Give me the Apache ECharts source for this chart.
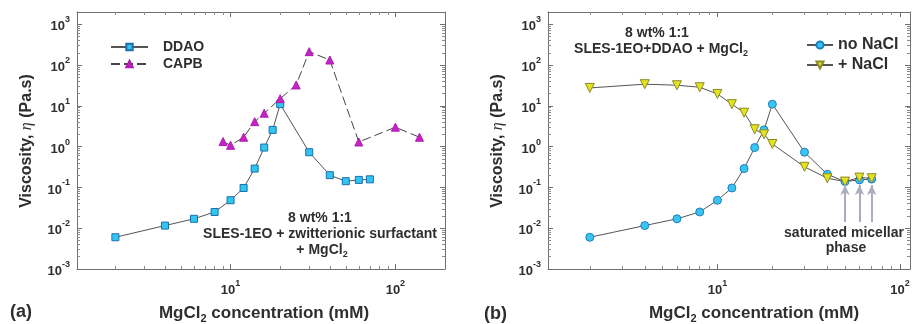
<!DOCTYPE html>
<html><head><meta charset="utf-8">
<script src="https://cdn.jsdelivr.net/npm/echarts@6/dist/echarts.min.js"></script>
<style>html,body{margin:0;padding:0;background:#fff}#c{width:913px;height:324px}</style>
</head><body><div id="c"></div>
<script>
// ---- data ----
const concA = [2, 4, 6, 8, 10, 12, 14, 16, 18, 20, 30, 40, 50, 60, 70];
const ddao = [0.006, 0.0116, 0.017, 0.025, 0.0485, 0.097, 0.29, 0.95, 2.57, 11, 0.73, 0.2, 0.142, 0.153, 0.158];
const concCAPB = [9, 10, 12, 14, 16, 20, 25, 30, 40, 60, 100, 140];
const capb = [1.33, 1.08, 1.7, 4.1, 6.6, 15, 32.5, 213, 133, 1.3, 3.0, 1.7];
const concB = [2, 4, 6, 8, 10, 12, 14, 16, 18, 20, 30, 40, 50, 60, 70];
const noNaCl = [0.006, 0.0116, 0.017, 0.025, 0.0485, 0.097, 0.29, 0.95, 2.57, 11, 0.73, 0.21, 0.139, 0.153, 0.16];
const withNaCl = [27.5, 34, 32, 28.6, 19.6, 11, 6.8, 2.67, 2.0, 1.16, 0.32, 0.168, 0.139, 0.174, 0.168];
const arrowX = [50, 60, 70];
const arrowFrom = 0.0143, arrowTo = 0.115;
const xRangeA = [1.17, 200], xRangeB = [1.18, 113.5], yRange = [0.001, 2000];

const FONT = "Arial, 'Liberation Sans', sans-serif";
const TXT = '#2e2e2e';
const AX = '#707070';

function logLabel(v) {
  const e = Math.log10(v), r = Math.round(e);
  if (Math.abs(e - r) > 1e-6) return '';
  return '{b|10}{s|' + r + '}';
}
const tickRich = {
  b: {fontSize: 13, fontWeight: 'bold', color: TXT, fontFamily: FONT, lineHeight: 18, verticalAlign: 'bottom'},
  s: {fontSize: 9, fontWeight: 'bold', color: TXT, fontFamily: FONT, verticalAlign: 'top'}
};
function axis(kind, gi, range, pos, showLabel) {
  return {
    type: 'log', logBase: 10, gridIndex: gi, min: range[0], max: range[1], position: pos,
    axisLine: {show: true, onZero: false, lineStyle: {color: AX, width: 1}},
    axisTick: {show: true, inside: true, length: 5, lineStyle: {color: AX}},
    minorTick: {show: true, splitNumber: 9, length: 3, lineStyle: {color: '#8a8a8a'}},
    splitLine: {show: false}, minorSplitLine: {show: false},
    axisLabel: {show: showLabel, formatter: logLabel, rich: tickRich, margin: kind === 'x' ? 10 : 7}
  };
}

const chart = echarts.init(document.getElementById('c'), null, {renderer: 'canvas'});
const option = {
  animation: false,
  backgroundColor: '#fff',
  grid: [
    {left: 77, top: 12, width: 368, height: 257},
    {left: 548, top: 12, width: 363, height: 257}
  ],
  xAxis: [
    axis('x', 0, xRangeA, 'bottom', true),
    axis('x', 0, xRangeA, 'top', false),
    axis('x', 1, xRangeB, 'bottom', true),
    axis('x', 1, xRangeB, 'top', false)
  ],
  yAxis: [
    axis('y', 0, yRange, 'left', true),
    axis('y', 0, yRange, 'right', false),
    axis('y', 1, yRange, 'left', true),
    axis('y', 1, yRange, 'right', false)
  ],
  legend: [
    {orient: 'vertical', left: 110, top: 40, padding: 0, itemWidth: 37, itemHeight: 8, itemGap: 3,
     data: ['DDAO', 'CAPB'],
     textStyle: {fontSize: 14, fontWeight: 'bold', color: TXT, fontFamily: FONT, padding: [0, 0, 0, 10]}},
    {orient: 'vertical', left: 806, top: 37, padding: 0, itemWidth: 26, itemHeight: 9, itemGap: 4,
     data: ['no NaCl', '+ NaCl'],
     textStyle: {fontSize: 16, fontWeight: 'bold', color: TXT, fontFamily: FONT}}
  ],
  series: [
    {name: 'DDAO', type: 'line', xAxisIndex: 0, yAxisIndex: 0,
     data: concA.map((x, i) => [x, ddao[i]]),
     symbol: 'rect', symbolSize: 7,
     itemStyle: {color: '#30c6ef', borderColor: '#1c6fae', borderWidth: 1},
     lineStyle: {color: '#555', width: 1}, z: 3},
    {name: 'CAPB', type: 'line', xAxisIndex: 0, yAxisIndex: 0,
     data: concCAPB.map((x, i) => [x, capb[i]]),
     symbol: 'triangle', symbolSize: 8,
     itemStyle: {color: '#c424c4', borderColor: '#b01cb0', borderWidth: 1},
     lineStyle: {color: '#444', width: 1, type: [9, 4]}, z: 3},
    {name: 'no NaCl', type: 'line', xAxisIndex: 2, yAxisIndex: 2,
     data: concB.map((x, i) => [x, noNaCl[i]]),
     symbol: 'circle', symbolSize: 8,
     itemStyle: {color: '#3ac4f0', borderColor: '#1e7fc0', borderWidth: 1},
     lineStyle: {color: '#555', width: 1}, z: 3,
     markLine: {silent: true, symbol: ['none', 'arrow'], symbolSize: [7, 10],
       label: {show: false}, emphasis: {disabled: true},
       lineStyle: {color: '#a9adbd', width: 2, type: 'solid'},
       data: arrowX.map(x => [{coord: [x, arrowFrom]}, {coord: [x, arrowTo]}])}},
    {name: '+ NaCl', type: 'line', xAxisIndex: 2, yAxisIndex: 2,
     data: concB.map((x, i) => [x, withNaCl[i]]),
     symbol: 'triangle', symbolRotate: 180, symbolSize: 9,
     itemStyle: {color: '#e4e41c', borderColor: '#8a8a2a', borderWidth: 1},
     lineStyle: {color: '#555', width: 1}, z: 4}
  ],
  graphic: [
    // y axis names
    {type: 'text', x: 27, y: 141, rotation: Math.PI / 2,
     style: {text: 'Viscosity, {i|η} (Pa.s)', align: 'center', verticalAlign: 'middle', fill: TXT,
       font: 'bold 16px ' + FONT, rich: {i: {fontStyle: 'italic', fontWeight: 'normal', fontSize: 16, fontFamily: 'serif', fill: TXT}}}},
    {type: 'text', x: 498, y: 141, rotation: Math.PI / 2,
     style: {text: 'Viscosity, {i|η} (Pa.s)', align: 'center', verticalAlign: 'middle', fill: TXT,
       font: 'bold 16px ' + FONT, rich: {i: {fontStyle: 'italic', fontWeight: 'normal', fontSize: 16, fontFamily: 'serif', fill: TXT}}}},
    // x axis names
    {type: 'text', x: 264, y: 313,
     style: {text: '{m|MgCl}{u|2}{m| concentration (mM)}', align: 'center', verticalAlign: 'middle',
       rich: {m: {font: 'bold 17px ' + FONT, fill: TXT, lineHeight: 22}, u: {font: 'bold 11px ' + FONT, fill: TXT, verticalAlign: 'bottom'}}}},
    {type: 'text', x: 754, y: 313,
     style: {text: '{m|MgCl}{u|2}{m| concentration (mM)}', align: 'center', verticalAlign: 'middle',
       rich: {m: {font: 'bold 17px ' + FONT, fill: TXT, lineHeight: 22}, u: {font: 'bold 11px ' + FONT, fill: TXT, verticalAlign: 'bottom'}}}},
    // panel letters
    {type: 'text', x: 10, y: 312, style: {text: '(a)', font: 'bold 18px ' + FONT, fill: TXT, verticalAlign: 'middle'}},
    {type: 'text', x: 484, y: 314, style: {text: '(b)', font: 'bold 18px ' + FONT, fill: TXT, verticalAlign: 'middle'}},
    // left annotation
    {type: 'text', x: 320, y: 218, style: {text: '8 wt% 1:1', font: 'bold 14px ' + FONT, fill: TXT, align: 'center', verticalAlign: 'middle'}},
    {type: 'text', x: 320, y: 234, style: {text: 'SLES-1EO + zwitterionic surfactant', font: 'bold 14px ' + FONT, fill: TXT, align: 'center', verticalAlign: 'middle'}},
    {type: 'text', x: 322, y: 250,
     style: {text: '{m|+ MgCl}{u|2}', align: 'center', verticalAlign: 'middle',
       rich: {m: {font: 'bold 14px ' + FONT, fill: TXT, lineHeight: 18}, u: {font: 'bold 9px ' + FONT, fill: TXT, verticalAlign: 'bottom'}}}},
    // right annotation
    {type: 'text', x: 657, y: 33, style: {text: '8 wt% 1:1', font: 'bold 14px ' + FONT, fill: TXT, align: 'center', verticalAlign: 'middle'}},
    {type: 'text', x: 661, y: 49,
     style: {text: '{m|SLES-1EO+DDAO + MgCl}{u|2}', align: 'center', verticalAlign: 'middle',
       rich: {m: {font: 'bold 14px ' + FONT, fill: TXT, lineHeight: 18}, u: {font: 'bold 9px ' + FONT, fill: TXT, verticalAlign: 'bottom'}}}},
    {type: 'text', x: 844, y: 233, style: {text: 'saturated micellar', font: 'bold 14px ' + FONT, fill: TXT, align: 'center', verticalAlign: 'middle'}},
    {type: 'text', x: 846, y: 248, style: {text: 'phase', font: 'bold 14px ' + FONT, fill: TXT, align: 'center', verticalAlign: 'middle'}}
  ]
};
chart.setOption(option);
</script>
</body></html>
